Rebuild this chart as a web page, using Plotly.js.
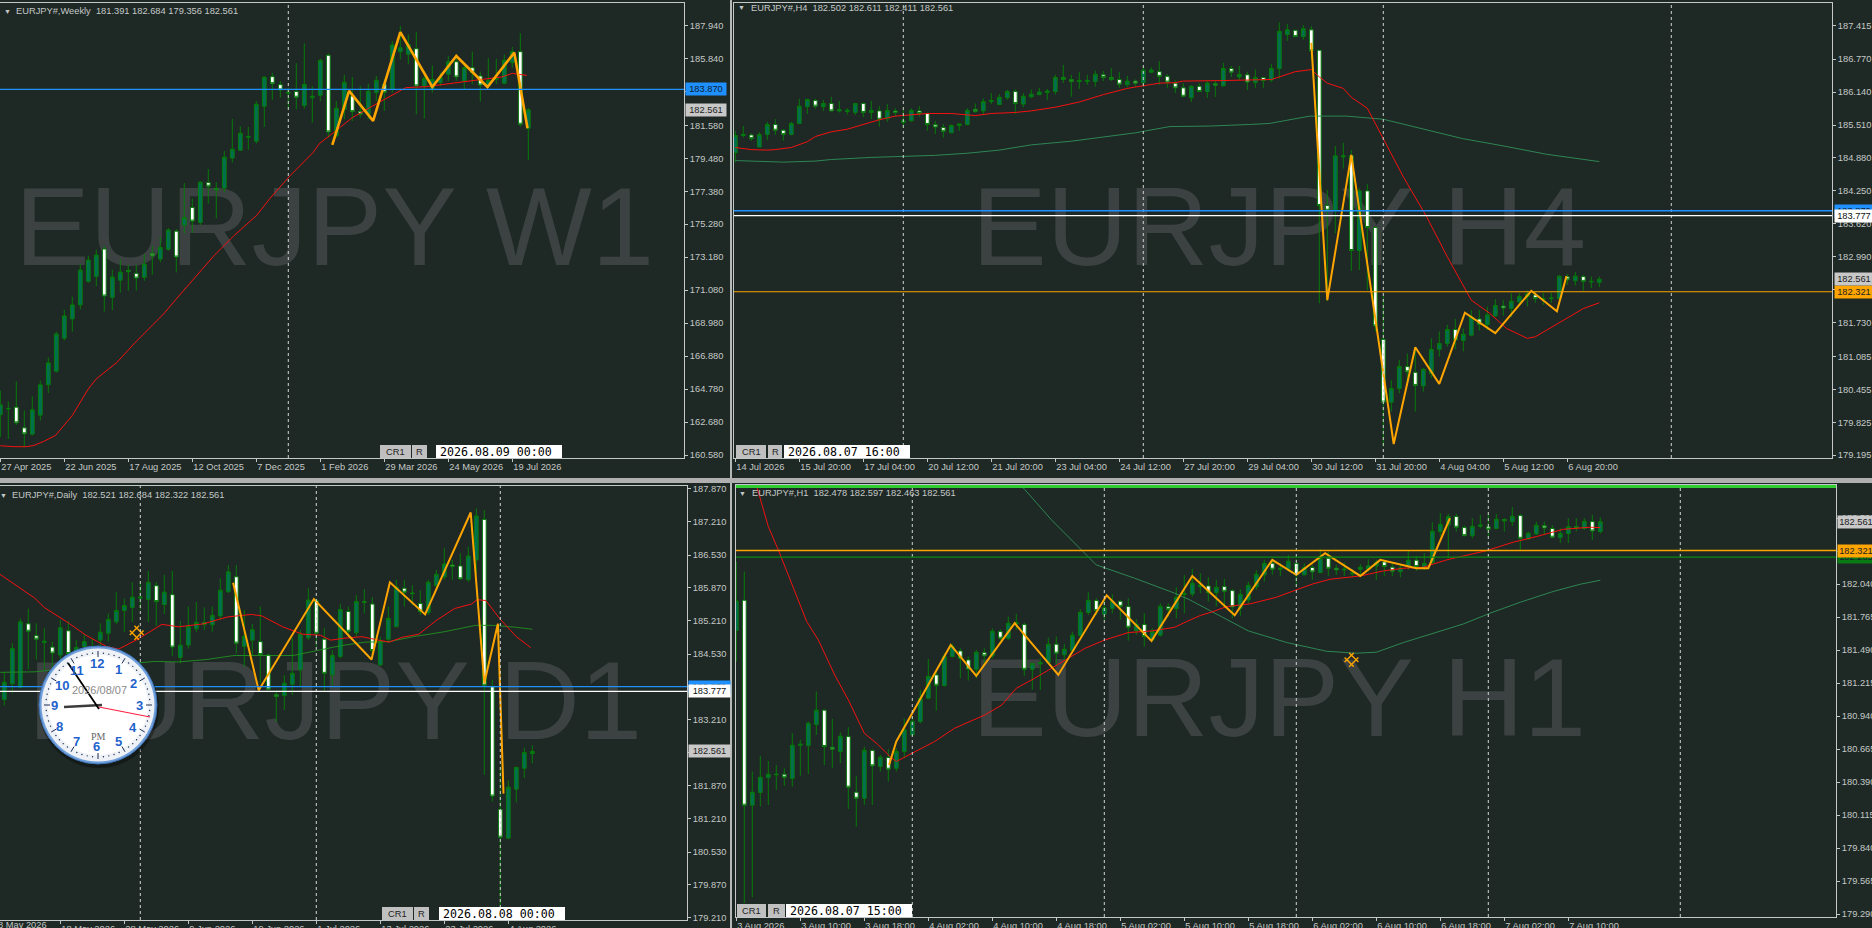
<!DOCTYPE html>
<html><head><meta charset="utf-8">
<script src="https://cdn.plot.ly/plotly-3.0.1.min.js"></script>
<style>html,body{margin:0;padding:0;background:#1e2824;overflow:hidden}#c{width:1872px;height:928px}</style>
</head><body><div id="c"></div>
<script>
// ---------- WEEKLY ----------
const w1Open=[163.14,163.52,163.63,162.31,161.91,163.12,165.05,165.92,168.02,169.25,170.14,171.64,171.96,173.70,170.62,171.71,172.34,172.15,171.90,173.42,173.06,173.68,174.84,175.22,176.35,175.39,177.94,177.56,177.58,179.49,179.99,180.82,180.57,182.79,
184.68,184.17,183.62,183.73,182.84,183.34,183.49,186.04,180.91,182.60,183.45,182.47,182.28,183.66,184.19,183.87,186.27,186.10,186.46,184.09,183.87,184.30,184.83,185.63,184.40,185.25,184.72,184.09,184.51,184.26,185.57,186.27,181.391];
const w1Close=[163.78,163.54,162.63,161.93,163.46,165.05,166.45,168.29,169.44,170.14,172.36,173.00,173.32,170.71,171.92,172.23,172.26,171.85,172.74,173.27,173.80,174.91,173.19,175.71,175.48,177.96,177.70,177.47,179.55,180.06,181.08,180.86,182.92,184.64,
184.23,183.83,183.68,183.37,184.19,183.43,185.72,181.16,182.67,184.32,182.45,182.28,183.75,184.45,183.68,186.69,186.52,186.74,184.09,184.57,184.49,184.62,185.63,184.66,185.25,184.93,184.15,184.45,184.62,185.72,186.27,181.65,182.561];
const w1High=[164.69,163.99,165.26,163.42,164.31,165.32,166.79,168.44,169.84,170.67,172.74,173.27,173.66,173.89,172.38,173.04,172.70,172.70,173.38,173.91,174.48,175.03,174.97,177.90,176.92,178.02,178.79,177.96,179.95,181.99,181.52,181.48,183.13,184.72,
184.93,184.40,183.98,185.53,186.80,184.09,185.82,186.16,183.13,184.79,184.66,184.09,184.23,184.72,184.51,186.95,187.90,187.37,187.52,185.04,185.40,184.93,185.99,186.10,185.46,186.27,185.00,185.85,185.82,186.10,186.57,187.44,182.684];
const w1Low=[161.72,161.61,162.50,161.08,161.83,162.78,164.52,165.83,167.87,168.44,169.86,171.56,171.32,169.71,169.80,170.92,171.05,171.05,171.68,172.07,172.85,173.59,172.21,174.69,174.74,175.22,176.60,175.65,177.30,179.21,179.95,180.02,180.42,181.48,
183.20,183.34,182.60,182.60,182.64,181.75,183.13,180.80,180.80,181.97,181.86,182.07,181.97,183.13,182.50,183.66,185.78,185.46,182.28,182.01,183.66,184.09,184.40,184.40,183.87,184.19,183.09,183.98,184.19,184.19,185.25,181.48,179.356];
const w1RedX=[0,1.7,3.3,4.2,5.4,6.9,9,11,12,14.6,16.7,20.4,22,24.2,26.7,29.2,32,33.7,36.2,39.1,39.9,41.5,44,47.3,50.7,53.2,56.5,59.4,62.7,64,65.8];
const w1RedY=[161.17,161.11,161.11,161.19,161.44,161.83,163.10,164.79,165.43,166.49,167.66,169.56,170.52,171.79,173.27,174.55,175.82,176.92,178.36,179.85,180.42,181.05,182.07,183.03,183.98,184.04,184.28,184.45,184.66,184.89,184.76];
const w1ZigX=[41.5,43.6,46.6,50,54,57,60.9,64.25,65.9];
const w1ZigY=[180.33,183.77,181.86,187.52,184.02,185.99,184.02,186.21,181.39];
const w1Ticks=[187.94,185.84,183.74,181.58,179.48,177.38,175.28,173.18,171.08,168.98,166.88,164.78,162.68,160.58];
const w1Labels=['27 Apr 2025','22 Jun 2025','17 Aug 2025','12 Oct 2025','7 Dec 2025','1 Feb 2026','29 Mar 2026','24 May 2026','19 Jul 2026'];
const w1LabelIdx=[0,8,16,24,32,40,48,56,64];
const w1Dashes=[36];

// ---------- H4 ----------
const h4Open=[184.98,185.31,185.32,185.09,185.33,185.52,185.41,185.33,185.54,185.86,
185.98,185.86,185.92,185.78,185.77,185.75,185.92,185.75,185.78,185.63,
185.78,185.56,185.59,185.78,185.73,185.52,185.46,185.36,185.50,185.52,
185.81,185.78,185.96,185.90,186.03,186.15,185.91,186.05,186.09,186.13,
186.15,186.42,186.38,186.34,186.34,186.34,186.47,186.42,186.38,186.28,
186.35,186.32,186.52,186.53,186.44,
186.31,186.22,186.03,186.25,186.15,186.30,186.26,186.59,186.43,186.47,
186.32,186.42,186.37,186.59,187.24,187.32,187.20,187.33,186.94,183.97,
183.88,184.90,184.92,183.11,184.25,183.55,181.41,180.21,180.47,180.89,
180.78,180.52,180.76,181.22,181.33,181.60,181.39,181.49,181.80,181.69,
181.86,182.05,182.00,182.13,182.23,182.26,182.18,182.19,182.19,182.61,
182.53,182.61,182.51,182.502];
const h4Close=[185.31,185.33,185.25,185.33,185.52,185.41,185.33,185.54,185.87,186.00,
185.87,185.92,185.78,185.80,185.79,185.92,185.75,185.79,185.62,185.79,
185.75,185.59,185.79,185.73,185.52,185.47,185.39,185.50,185.53,185.79,
185.77,185.96,185.98,186.04,186.15,185.92,186.06,186.10,186.14,186.16,
186.42,186.38,186.34,186.36,186.36,186.48,186.42,186.38,186.29,186.35,
186.31,186.56,186.56,186.44,186.33,
186.22,186.06,186.25,186.15,186.31,186.27,186.59,186.52,186.48,186.33,
186.42,186.36,186.59,187.30,187.33,187.20,187.35,186.93,183.97,183.88,
184.92,184.92,183.11,184.25,183.55,181.67,180.21,180.47,180.89,180.79,
180.53,180.84,181.22,181.33,181.60,181.40,181.51,181.84,181.70,181.88,
182.06,182.01,182.14,182.23,182.28,182.19,182.19,182.20,182.62,182.55,
182.62,182.52,182.52,182.561];
const h4High=[185.40,185.49,185.35,185.37,185.57,185.62,185.43,185.57,186.01,186.01,
186.01,185.99,186.05,185.97,185.83,185.92,185.94,185.97,185.87,185.91,
185.83,185.80,185.83,185.87,185.75,185.59,185.53,185.52,185.54,185.83,
185.92,186.02,186.12,186.10,186.18,186.19,186.12,186.19,186.22,186.20,
186.47,186.66,186.47,186.52,186.47,186.55,186.54,186.60,186.52,186.45,
186.38,186.63,186.61,186.73,186.48,
186.37,186.31,186.27,186.31,186.36,186.36,186.70,186.64,186.64,186.53,
186.57,186.43,186.68,187.47,187.44,187.33,187.42,187.40,186.94,184.27,
185.11,185.17,185.03,184.30,184.38,183.55,182.24,180.63,181.02,181.14,
181.24,180.86,181.43,181.56,181.69,181.80,181.62,181.97,181.97,182.04,
182.18,182.16,182.29,182.29,182.35,182.32,182.30,182.30,182.64,182.66,
182.70,182.64,182.61,182.611];
const h4Low=[184.79,185.27,185.21,185.09,185.22,185.32,185.21,185.31,185.53,185.72,
185.82,185.78,185.77,185.75,185.71,185.70,185.66,185.62,185.48,185.57,
185.67,185.46,185.57,185.67,185.40,185.34,185.27,185.36,185.40,185.50,
185.74,185.70,185.91,185.89,185.99,185.72,185.85,186.02,186.08,185.99,
186.09,186.31,186.05,186.20,186.28,186.24,186.35,186.35,186.22,186.23,
186.24,186.24,186.50,186.28,186.22,
186.12,186.04,185.95,186.15,186.03,186.05,186.24,186.43,186.37,186.18,
186.22,186.22,186.33,186.40,187.12,187.19,187.14,186.75,182.10,182.14,
183.44,184.68,182.72,182.74,182.35,181.56,179.36,180.03,180.38,180.57,
180.03,180.41,180.67,181.08,181.27,181.22,181.18,181.47,181.58,181.59,
181.84,181.86,181.84,182.07,182.04,182.11,182.07,182.11,182.18,182.45,
182.44,182.34,182.39,182.411];
const h4RedX=[0,2,4,5,7,9,10,12,14,16,18,20,22,24,27,30,32,35,37,40,43,46,49,51,53,55,56,61,67,70,72,73,74,76,77,79,81,83.5,86.4,89,92,94.3,96.4,99,100,102.7,106,108];
const h4RedY=[185.08,185.04,185.03,185.04,185.08,185.19,185.29,185.38,185.43,185.52,185.61,185.68,185.70,185.73,185.73,185.69,185.73,185.75,185.78,185.85,185.95,186.09,186.21,186.26,186.31,186.32,186.35,186.36,186.38,186.53,186.57,186.43,186.31,186.21,186.04,185.83,185.26,184.52,183.76,182.99,182.16,181.91,181.62,181.43,181.46,181.70,182.00,182.11];
const h4GreenX=[0,4,6,10,12,17,21,25,29,33,37,42,46,50,54.3,59.3,64.3,66.8,71.8,76.4,81,85.6,90.9,96,101.4,108];
const h4GreenY=[184.83,184.81,184.80,184.82,184.85,184.89,184.91,184.93,184.97,185.03,185.13,185.20,185.28,185.36,185.48,185.49,185.52,185.54,185.68,185.68,185.62,185.45,185.25,185.11,184.95,184.81];
const h4ZigX=[72,74,77,82.3,85,88,91.2,95,99.5,102.7,103.9];
const h4ZigY=[187.08,182.16,184.94,179.41,181.26,180.56,181.92,181.53,182.34,181.95,182.62];
const h4Ticks=[187.415,186.77,186.14,185.51,184.88,184.25,183.62,182.99,182.36,181.73,181.085,180.455,179.825,179.195];
const h4Labels=['14 Jul 2026','15 Jul 20:00','17 Jul 04:00','20 Jul 12:00','21 Jul 20:00','23 Jul 04:00','24 Jul 12:00','27 Jul 20:00','29 Jul 04:00','30 Jul 12:00','31 Jul 20:00','4 Aug 04:00','5 Aug 12:00','6 Aug 20:00'];
const h4LabelIdx=[0,8,16,24,32,40,48,56,64,72,80,88,96,104];
const h4Dashes=[21,51,81,117];

// ---------- DAILY ----------
const d1Open=[183.61,183.93,183.86,185.14,184.90,184.76,184.67,184.51,185.00,184.51,184.68,184.61,184.81,184.95,185.18,185.41,185.47,185.66,185.63,185.91,185.53,185.73,184.46,184.71,185.04,185.16,185.12,185.30,185.79,186.09,184.68,184.81,184.78,184.51,183.71,183.69,183.92,184.21,184.86,185.61,184.83,184.11,184.48,185.39,184.96,185.57,185.54,184.31,184.83,185.08,185.86,185.75,185.55,185.37,185.91,186.09,186.33,186.31,186.03,186.43,187.25,183.87,181.39,180.81,181.80,182.22,182.521];
const d1Close=[183.96,184.64,185.18,184.99,184.83,184.79,184.55,185.06,184.54,184.66,184.78,184.68,184.97,185.23,185.41,185.51,185.68,185.68,185.98,185.59,185.78,184.67,184.71,185.09,185.17,185.13,185.31,185.82,186.19,184.75,184.89,185.02,184.52,183.82,183.67,183.94,184.14,184.93,185.62,184.95,184.14,184.50,185.43,184.99,185.59,185.59,184.60,184.78,185.25,185.88,185.78,185.76,185.39,185.98,186.14,186.35,186.30,186.05,186.51,187.32,183.90,181.66,180.83,181.84,182.24,182.54,182.561];
const d1High=[184.17,184.75,185.25,185.45,185.15,185.05,184.78,185.22,185.20,184.81,184.93,184.85,185.15,185.35,185.78,185.65,185.98,185.99,186.21,185.99,186.13,186.21,185.20,185.49,185.58,185.47,185.49,186.06,186.33,186.33,185.42,185.14,185.49,184.54,183.79,184.10,184.85,185.02,185.86,185.65,185.05,184.61,185.54,185.49,185.72,185.84,185.68,184.88,185.49,186.03,186.03,185.92,185.82,186.03,186.23,186.67,186.43,186.56,186.70,187.47,187.44,184.01,182.25,181.98,182.25,182.64,182.684];
const d1Low=[183.49,183.74,183.84,184.22,184.42,184.21,184.14,184.21,184.34,184.41,184.48,184.48,184.68,184.78,185.14,184.98,185.18,185.42,185.18,185.10,185.34,184.49,184.34,184.64,184.98,185.02,184.98,185.22,185.76,184.54,184.27,184.51,183.94,183.80,183.16,183.40,183.70,183.87,184.81,184.68,183.77,183.90,184.44,184.85,184.88,185.35,184.42,184.29,184.78,185.07,185.49,185.52,185.32,185.32,185.82,186.03,186.03,186.03,185.99,186.15,182.09,181.55,179.43,180.79,181.53,182.02,182.322];
const d1RedX=[-0.54,1.6,3.8,5,8,10.2,12.8,14.3,16.7,19.7,21.8,24.9,27.9,30.9,32.2,34.8,37.3,39.5,40.8,42.5,44.7,46.8,48.1,49.8,51.8,54.1,56.3,58.4,59.1,60.2,61.9,64,65.8];
const d1RedY=[186.14,185.90,185.66,185.47,185.16,184.91,184.68,184.63,184.83,185.13,185.08,185.14,185.28,185.33,185.30,185.08,184.93,184.91,184.81,184.85,184.88,184.81,184.77,184.87,184.93,185.22,185.45,185.54,185.63,185.61,185.25,184.88,184.66];
const d1GreenX=[-0.5,3.8,5,17.1,18.8,21.8,25.3,28.7,32.2,36.1,39.1,42.1,45.1,48.1,51.1,55,58.9,61,64,66];
const d1GreenY=[184.16,184.17,184.19,184.36,184.38,184.37,184.42,184.50,184.50,184.50,184.60,184.70,184.77,184.78,184.88,184.98,185.11,185.11,185.07,185.03];
const d1ZigX=[28.6,31.8,38.7,45.9,48.2,52.6,58.3,60,61.7,62.4];
const d1ZigY=[185.97,183.80,185.64,184.42,185.98,185.33,187.39,183.94,185.14,181.71];
const d1Ticks=[187.87,187.21,186.53,185.87,185.21,184.53,183.87,183.21,182.55,181.87,181.21,180.53,179.87,179.21];
const d1Labels=['18 May 2026','28 May 2026','9 Jun 2026','19 Jun 2026','1 Jul 2026','13 Jul 2026','23 Jul 2026','4 Aug 2026'];
const d1LabelIdx=[7,15,23,31,39,47,55,63];
const d1Dashes=[17,39,62];

// ---------- H1 ----------
const h1Open=[181.654,181.906,180.198,180.304,180.429,180.451,180.456,180.420,180.698,180.695,180.870,180.990,180.681,180.645,180.770,180.306,180.256,180.654,180.520,180.595,180.506,180.645,180.784,180.895,181.090,181.284,181.195,181.437,181.484,181.409,181.331,181.470,181.443,181.645,181.590,181.709,181.704,181.331,181.376,181.387,181.540,181.451,181.487,181.612,181.804,181.904,181.790,181.837,181.898,181.854,181.654,181.704,181.576,181.615,181.854,181.837,181.954,181.959,182.020,182.026,181.970,182.020,181.987,181.840,181.909,182.020,182.118,182.215,182.165,182.168,182.212,182.118,182.179,182.137,182.257,182.173,182.159,182.126,182.165,182.165,182.193,182.226,182.182,182.145,182.187,182.240,182.173,182.220,182.479,182.534,182.604,182.512,182.445,182.523,182.520,182.504,182.579,182.562,182.612,182.418,182.459,182.529,182.504,182.429,182.462,182.520,182.504,182.562,182.478];
const h1Close=[181.901,180.198,180.306,180.431,180.456,180.456,180.431,180.698,180.706,180.881,180.990,180.687,180.665,180.773,180.348,180.256,180.656,180.526,180.598,180.498,180.645,180.826,180.898,181.087,181.273,181.198,181.437,181.520,181.423,181.334,181.473,181.443,181.648,181.590,181.715,181.720,181.331,181.379,181.387,181.540,181.465,181.498,181.615,181.806,181.906,181.820,181.843,181.898,181.856,181.681,181.706,181.604,181.645,181.856,181.831,181.931,181.962,182.048,182.034,181.970,182.015,181.981,181.851,181.956,182.031,182.123,182.215,182.165,182.173,182.232,182.118,182.179,182.143,182.257,182.173,182.159,182.165,182.132,182.182,182.193,182.220,182.187,182.148,182.176,182.240,182.187,182.215,182.482,182.540,182.604,182.515,182.445,182.523,182.534,182.498,182.582,182.568,182.607,182.423,182.465,182.532,182.509,182.432,182.462,182.520,182.509,182.565,182.484,182.561];
const h1High=[182.229,182.145,180.479,180.609,180.567,180.534,180.506,180.798,180.743,180.895,181.145,180.998,180.918,180.806,180.848,180.442,180.687,180.665,180.618,180.665,180.673,180.923,180.937,181.159,181.418,181.312,181.465,181.543,181.506,181.437,181.493,181.506,181.673,181.665,181.770,181.793,181.720,181.381,181.423,181.595,181.604,181.543,181.645,181.831,181.973,181.923,181.909,181.956,181.909,181.923,181.748,181.798,181.673,181.881,181.881,182.015,182.118,182.168,182.132,182.098,182.076,182.084,182.001,181.998,182.062,182.159,182.243,182.251,182.215,182.284,182.251,182.215,182.201,182.332,182.312,182.201,182.220,182.165,182.209,182.248,182.243,182.243,182.215,182.201,182.320,182.276,182.298,182.557,182.632,182.626,182.626,182.529,182.590,182.618,182.626,182.626,182.590,182.682,182.626,182.479,182.562,182.562,182.532,182.507,182.590,182.590,182.590,182.618,182.597];
const h1Low=[181.395,179.381,179.431,180.187,180.201,180.326,180.359,180.354,180.442,180.459,180.784,180.534,180.506,180.548,180.167,180.020,180.201,180.201,180.479,180.395,180.479,180.590,180.779,180.881,181.081,180.987,181.187,181.429,181.256,181.237,181.256,181.368,181.423,181.570,181.576,181.659,181.276,181.159,181.159,181.376,181.368,181.409,181.465,181.598,181.784,181.784,181.743,181.798,181.743,181.570,181.618,181.520,181.562,181.604,181.770,181.756,181.798,181.937,181.965,181.895,181.854,181.854,181.756,181.776,181.881,181.993,182.062,182.118,182.109,182.145,182.020,182.118,182.076,182.132,182.109,182.118,182.109,182.109,182.109,182.145,182.076,182.109,182.109,182.098,182.159,182.151,182.159,182.209,182.437,182.257,182.479,182.437,182.423,182.507,182.423,182.498,182.479,182.526,182.326,182.409,182.451,182.451,182.423,182.382,182.382,182.479,182.493,182.409,182.463];
const h1RedX=[2.5,4,5.25,6.7,8.8,10.25,12.3,14,16,17.75,19.2,20,22,24.8,27.3,31.1,33.2,35,37.3,39.4,41.5,43.6,46.1,49,52,54.8,56.3,58,59.6,61.3,64.2,67.5,70,72.1,74.2,78,80.9,83.4,85.9,88.8,93.8,97.1,100,103.4,106.7,108];
const h1RedY=[182.868,182.520,182.326,182.076,181.729,181.576,181.284,181.076,180.798,180.701,180.604,180.562,180.631,180.729,180.840,180.951,181.034,181.173,181.256,181.340,181.423,181.506,181.576,181.637,181.651,181.681,181.729,181.779,181.812,181.854,181.876,181.931,181.993,182.043,182.081,182.109,182.151,182.173,182.182,182.243,182.320,182.390,182.437,182.498,182.515,182.512];
const h1GreenX=[35.5,36.1,39.4,42.75,45,49.8,54.8,56.7,59.6,64,68.8,73.8,77.5,80,83.4,87.5,90.9,94.2,98,102.1,105.5,108];
const h1GreenY=[182.868,182.826,182.576,182.354,182.201,182.090,181.965,181.909,181.804,181.651,181.554,181.481,181.465,181.473,181.554,181.637,181.709,181.798,181.890,181.979,182.040,182.073];
const h1ZigX=[19.1,20,26.8,30,34.8,40.25,46.3,51.9,57,62.3,67,70,73.6,78,80.5,85,86.5,89.2];
const h1ZigY=[180.534,180.729,181.534,181.276,181.715,181.284,181.948,181.568,182.109,181.781,182.243,182.118,182.298,182.109,182.243,182.173,182.173,182.590];
const h1Ticks=[182.59,182.315,182.04,181.765,181.49,181.215,180.94,180.665,180.39,180.115,179.84,179.565,179.29];
const h1Labels=['3 Aug 2026','3 Aug 10:00','3 Aug 18:00','4 Aug 02:00','4 Aug 10:00','4 Aug 18:00','5 Aug 02:00','5 Aug 10:00','5 Aug 18:00','6 Aug 02:00','6 Aug 10:00','6 Aug 18:00','7 Aug 02:00','7 Aug 10:00'];
const h1LabelIdx=[0,8,16,24,32,40,48,56,64,72,80,88,96,104];
const h1Dashes=[22,46,70,94,118];

// ---------- page geometry / style ----------
const W=1872,H=928,TS=9.3;
const BG='#1e2824',FG='#c4c8c8',FRAME='#c4c8c8',WM='#3c4241',ORANGE='#ffa500',RED='#ff1010',FONT='"Liberation Sans",Arial,sans-serif';
const X=p=>p/W, Y=p=>1-p/H;

const panes=[
 {id:2,l:0,r:684,t:3,b:458,x0:0.3,yr:[160.39,189.37],o:w1Open,h:w1High,lo:w1Low,c:w1Close,red:[w1RedX,w1RedY],zig:[w1ZigX,w1ZigY,2.6],ticks:w1Ticks,labels:w1Labels,lidx:w1LabelIdx,dash:w1Dashes},
 {id:3,l:734,r:1832,t:3,b:458,x0:735.3,yr:[179.142,187.843],o:h4Open,h:h4High,lo:h4Low,c:h4Close,red:[h4RedX,h4RedY],green:[h4GreenX,h4GreenY,'#2e8b57'],zig:[h4ZigX,h4ZigY,2],ticks:h4Ticks,labels:h4Labels,lidx:h4LabelIdx,dash:h4Dashes},
 {id:4,l:0,r:687,t:486,b:920,x0:4.3,yr:[179.156,187.925],o:d1Open,h:d1High,lo:d1Low,c:d1Close,red:[d1RedX,d1RedY],green:[d1GreenX,d1GreenY,'#228b22'],zig:[d1ZigX,d1ZigY,2],ticks:d1Ticks,labels:d1Labels,lidx:d1LabelIdx,dash:d1Dashes,brush:[[16.55],[184.96]]},
 {id:5,l:736,r:1836,t:485,b:917,x0:736.3,yr:[179.266,182.867],o:h1Open,h:h1High,lo:h1Low,c:h1Close,red:[h1RedX,h1RedY],green:[h1GreenX,h1GreenY,'#2e8b57'],zig:[h1ZigX,h1ZigY,2],ticks:h1Ticks,labels:h1Labels,lidx:h1LabelIdx,dash:h1Dashes,brush:[[76.9],[181.41]]}
];

const traces=[{type:'scatter',mode:'text',x:[15,972,28,972],y:[237,237,711,708],text:['EURJPY W1','EURJPY H4','EURJPY D1','EURJPY H1'],
  textposition:'middle right',textfont:{family:FONT,size:112,color:WM},hoverinfo:'skip',showlegend:false,xaxis:'x',yaxis:'y'}];
const layout={width:W,height:H,margin:{l:0,r:0,t:0,b:0},paper_bgcolor:BG,plot_bgcolor:'rgba(0,0,0,0)',showlegend:false,boxgap:0.33,
  font:{family:FONT,size:TS,color:FG},
  xaxis:{domain:[0,1],range:[0,W],visible:false,fixedrange:true},
  yaxis:{domain:[0,1],range:[H,0],visible:false,fixedrange:true},
  shapes:[],annotations:[]};
const S=layout.shapes,A=layout.annotations;

panes.forEach(p=>{
  const xn='x'+p.id,yn='y'+p.id,xk='xaxis'+p.id,yk='yaxis'+p.id;
  const idx=p.o.map((_,i)=>i);
  traces.push({type:'candlestick',x:idx,open:p.o,high:p.h,low:p.lo,close:p.c,xaxis:xn,yaxis:yn,hoverinfo:'skip',whiskerwidth:0,
    increasing:{line:{color:'#067a0a',width:1},fillcolor:'#006f52'},
    decreasing:{line:{color:'#067a0a',width:1},fillcolor:'#ffffff'}});
  if(p.green)traces.push({type:'scatter',mode:'lines',x:p.green[0],y:p.green[1],line:{color:p.green[2],width:0.95},xaxis:xn,yaxis:yn,hoverinfo:'skip'});
  traces.push({type:'scatter',mode:'lines',x:p.red[0],y:p.red[1],line:{color:RED,width:0.95},xaxis:xn,yaxis:yn,hoverinfo:'skip'});
  traces.push({type:'scatter',mode:'lines',x:p.zig[0],y:p.zig[1],line:{color:ORANGE,width:p.zig[2]},xaxis:xn,yaxis:yn,hoverinfo:'skip'});
  if(p.brush)traces.push({type:'scatter',mode:'markers',x:p.brush[0],y:p.brush[1],marker:{symbol:'hash-open',size:13,angle:45,color:ORANGE,line:{color:ORANGE,width:1.4}},xaxis:xn,yaxis:yn,hoverinfo:'skip'});
  layout[xk]={domain:[X(p.l),X(p.r)],range:[(p.l-p.x0)/8,(p.r-p.x0)/8],anchor:yn,showgrid:false,zeroline:false,showline:true,mirror:true,linecolor:FRAME,linewidth:1,
    ticks:'outside',ticklen:3,tickcolor:FRAME,tickmode:'array',tickvals:p.lidx,ticktext:p.labels,ticklabelposition:'outside right',tickangle:0,
    tickfont:{family:FONT,size:TS,color:FG},rangeslider:{visible:false},fixedrange:true};
  layout[yk]={domain:[Y(p.b),Y(p.t)],range:p.yr,anchor:xn,side:'right',showgrid:false,zeroline:false,showline:true,mirror:true,linecolor:FRAME,linewidth:1,
    ticks:'outside',ticklen:3,tickcolor:FRAME,tickmode:'array',tickvals:p.ticks,tickformat:'.3f',tickfont:{family:FONT,size:TS,color:FG},fixedrange:true};
  p.dash.forEach(d=>S.push({type:'line',layer:'above',xref:xn,yref:'paper',x0:d,x1:d,y0:Y(p.b),y1:Y(p.t),line:{color:'#d0d4d2',width:1,dash:'3px,3px'}}));
});

// price levels
function level(id,l,r,price,color,w){S.push({type:'line',layer:'above',xref:'paper',yref:'y'+id,x0:X(l),x1:X(r),y0:price,y1:price,line:{color,width:w}});}
const blueLevel=183.870,whiteLevel=183.777,orangeLevel=182.321,greenLevel=182.265,lastPrice=182.561;
level(2,0,684,blueLevel,'#1e90ff',1.4);
level(3,734,1832,blueLevel,'#1e90ff',1.4);level(3,734,1832,whiteLevel,'#ffffff',1.2);level(3,734,1832,orangeLevel,ORANGE,1.2);
level(4,0,687,blueLevel,'#1e90ff',1.2);level(4,0,687,whiteLevel,'#ffffff',1.2);
level(5,736,1836,orangeLevel,ORANGE,1.4);level(5,736,1836,greenLevel,'#0a8a14',1.2);

// price tags
function tag(id,xp,price,bg,fg,w){A.push({xref:'paper',yref:'y'+id,x:X(xp),y:price,xanchor:'left',yanchor:'middle',text:price.toFixed(3),showarrow:false,
  bgcolor:bg,width:w,height:12,borderpad:0,font:{family:FONT,size:TS,color:fg},align:'center'});}
tag(2,685,lastPrice,'#c8c8c8','#222',40);tag(2,685,blueLevel,'#1e90ff','#102030',40);
tag(3,1834,orangeLevel,ORANGE,'#222',38);tag(3,1834,lastPrice,'#c8c8c8','#222',38);tag(3,1834,blueLevel,'#1e90ff','#102030',38);tag(3,1834,whiteLevel,'#ffffff','#111',38);
tag(4,688,lastPrice,'#c8c8c8','#222',41);tag(4,688,blueLevel,'#1e90ff','#102030',41);tag(4,688,whiteLevel,'#ffffff','#111',41);
tag(5,1837,greenLevel,'#0a7a14','#102030',36);tag(5,1837,orangeLevel,ORANGE,'#222',36);tag(5,1837,lastPrice,'#c8c8c8','#222',36);

// text helper in page pixels
function txt(xp,yp,text,size,color,anchor,family,extra){A.push(Object.assign({xref:'paper',yref:'paper',x:X(xp),y:Y(yp),text,showarrow:false,xanchor:anchor||'left',yanchor:'middle',font:{family:family||FONT,size,color},borderpad:0},extra||{}));}

// headers
txt(3,11,'\u25BC',7,FG);txt(15,11,'EURJPY#,Weekly\u00a0\u00a0181.391 182.684 179.356 182.561',TS,FG);
txt(737,8,'\u25BC',7,FG);txt(750,8,'EURJPY#,H4\u00a0\u00a0182.502 182.611 182.411 182.561',TS,FG);
txt(-1,495,'\u25BC',7,FG);txt(11,495,'EURJPY#,Daily\u00a0\u00a0182.521 182.684 182.322 182.561',TS,FG);
txt(738,493,'\u25BC',7,FG);txt(751,493,'EURJPY#,H1\u00a0\u00a0182.478 182.597 182.463 182.561',TS,FG);
txt(-3,925,'8 May 2026',TS,FG);

// CR1 / R / date boxes
function box(x0,x1,yc,fill){S.push({type:'rect',layer:'above',xref:'paper',yref:'paper',x0:X(x0),x1:X(x1),y0:Y(yc-6.5),y1:Y(yc+6.5),fillcolor:fill,line:{width:0}});}
function ctrl(a,b,c,d,e,f,yc,date){box(a,b,yc,'#c0c0c0');box(c,d,yc,'#c0c0c0');box(e,f,yc,'#ffffff');
  txt((a+b)/2,yc,'CR1',TS,'#222','center');txt((c+d)/2,yc,'R',TS,'#222','center');txt(e+3,yc,date,11.6,'#000','left','"DejaVu Sans Mono",monospace');}
ctrl(380,411,412,427,436,562,451.5,'2026.08.09 00:00');
ctrl(736,766,768,782,784,910,451.5,'2026.08.07 16:00');
ctrl(382,413,414,429,439,565,913.5,'2026.08.08 00:00');
ctrl(737,766,768,785,786,912,910.5,'2026.08.07 15:00');

// window gutters and the lime band
function rect(x0,x1,y0,y1,fill){S.push({type:'rect',layer:'above',xref:'paper',yref:'paper',x0:X(x0),x1:X(x1),y0:Y(y1),y1:Y(y0),fillcolor:fill,line:{width:0}});}
rect(730,732,0,928,'#b4b8b6');rect(0,1872,478,483,'#b0b0b0');rect(736,1836,485,488,'#32cd32');

// clock (decorative widget)
const cx=98,cy=705;
function circ(r,fill,line,lw,dx,dy){S.push({type:'circle',layer:'above',xref:'paper',yref:'paper',x0:X(cx+(dx||0)-r),x1:X(cx+(dx||0)+r),y0:Y(cy+(dy||0)+r),y1:Y(cy+(dy||0)-r),fillcolor:fill,line:{color:line||fill,width:lw||0}});}
function seg(x0,y0,x1,y1,c,w){S.push({type:'line',layer:'above',xref:'paper',yref:'paper',x0:X(x0),y0:Y(y0),x1:X(x1),y1:Y(y1),line:{color:c,width:w}});}
circ(60,'rgba(0,0,0,0.35)',null,0,1,3);
circ(59,'#6f9fdb','#3f73b8',1);circ(56.5,'#eef1f6');circ(50,'#ffffff');
for(let i=0;i<60;i++){const a=i*Math.PI/30,hr=i%5===0;
  if(hr){seg(cx+Math.sin(a)*48,cy-Math.cos(a)*48,cx+Math.sin(a)*54,cy-Math.cos(a)*54,'#1c2c50',1);}
  else{const px=cx+Math.sin(a)*52,py=cy-Math.cos(a)*52;S.push({type:'circle',layer:'above',xref:'paper',yref:'paper',x0:X(px-.7),x1:X(px+.7),y0:Y(py+.7),y1:Y(py-.7),fillcolor:'#1c2c50',line:{width:0}});}}
seg(64,707,102,705,'#3c3c3c',2.4);seg(99,709,68,663,'#000000',1.8);seg(99,707,150,717,'#ff2040',1.2);
const clockNums=[['12',97,663],['1',118,669],['2',133,683],['3',139,705],['4',133,727],['5',118,741],['6',96,746],['7',76,741],['8',60,726],['9',54,705],['10',62,685],['11',77,670]];
clockNums.forEach(n=>txt(n[1],n[2],'<b>'+n[0]+'</b>',13,'#1f62cc','center'));
txt(99,690,'2026/08/07',11,'#8a8a8a','center');
txt(98,736,'PM',10,'#666','center','"Liberation Serif",serif');

Plotly.newPlot('c',traces,layout,{staticPlot:true,displayModeBar:false});
</script></body></html>
